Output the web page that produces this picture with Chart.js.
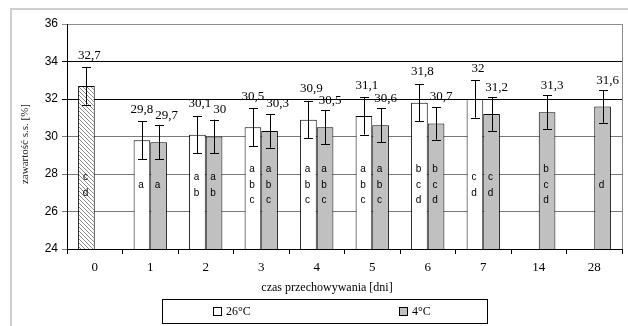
<!DOCTYPE html>
<html><head><meta charset="utf-8">
<script src="https://cdn.jsdelivr.net/npm/chart.js@4/dist/chart.umd.min.js"></script>
<style>html,body{margin:0;padding:0;background:#fff}#wrap{width:628px;height:326px;position:relative}</style>
</head><body><div id="wrap"><canvas id="c" width="628" height="326"></canvas></div>
<script>
const categories = ['0','1','2','3','4','5','6','7','14','28'];
const seriesNames = ['26°C','4°C'];
const values26 = [32.7,29.8,30.1,30.5,30.9,31.1,31.8,32,null,null];
const values4 = [null,29.7,30,30.3,30.5,30.6,30.7,31.2,31.3,31.6];
const err26 = [1.0,1.0,1.0,1.0,1.0,1.0,1.0,1.0,null,null];
const err4 = [null,0.9,0.9,0.9,0.9,0.9,0.87,0.9,0.9,0.87];
const letters26 = ['cd','a','ab','abc','abc','abc','bcd','cd',null,null];
const letters4 = [null,'a','ab','abc','abc','abc','bcd','cd','bcd','d'];
const yTicks = [24,26,28,30,32,34,36];
const xTitle = 'czas przechowywania [dni]';
const yTitle = 'zawartość s.s. [%]';

const SERIF = '"Liberation Serif", "Times New Roman", serif';
const SANS = '"Liberation Sans", Arial, sans-serif';

function hatch(){
  const p=document.createElement('canvas');p.width=4;p.height=4;
  const g=p.getContext('2d');
  g.fillStyle='#fff';g.fillRect(0,0,4,4);
  g.strokeStyle='#8a8a8a';g.lineWidth=1;
  g.beginPath();
  g.moveTo(0,0);g.lineTo(4,4);
  g.moveTo(-1,3);g.lineTo(1,5);
  g.moveTo(3,-1);g.lineTo(5,1);
  g.stroke();
  return g.createPattern(p,'repeat');
}
const ctx0=document.getElementById('c').getContext('2d');
const hatchPattern=hatch();

const fmt=v=>String(v).replace('.',',');

const overlay={
  id:'overlay',
  beforeDraw(chart){
    const c=chart.ctx;
    c.save();
    c.fillStyle='#fff';c.fillRect(0,0,chart.width,chart.height);
    c.strokeStyle='#cfcfcf';c.lineWidth=2;
    c.beginPath();c.moveTo(11,chart.height);c.lineTo(11,9);c.lineTo(chart.width,9);c.stroke();
    c.restore();
  },
  afterDatasetsDraw(chart){
    const c=chart.ctx, y=chart.scales.y, a=chart.chartArea;
    c.save();
    c.strokeStyle='#8c8c8c';c.lineWidth=1;
    c.beginPath();c.moveTo(Math.round(a.right)+0.5,a.top);c.lineTo(Math.round(a.right)+0.5,a.bottom);c.stroke();
    const sets=[[values26,err26,letters26],[values4,err4,letters4]];
    const labels=[[],[]];
    c.font='13px '+SERIF;
    sets.forEach(([vals,errs,lets],di)=>{
      const meta=chart.getDatasetMeta(di);
      meta.data.forEach((bar,i)=>{
        if(vals[i]==null) return;
        const x=Math.round(bar.x)+0.5;
        let top=bar.y;
        if(errs[i]!=null){
          const yt=y.getPixelForValue(vals[i]+errs[i]);
          const yb=y.getPixelForValue(vals[i]-errs[i]);
          c.strokeStyle='#000';c.lineWidth=1;
          c.beginPath();
          c.moveTo(x,yt);c.lineTo(x,yb);
          c.moveTo(x-4.5,Math.round(yt)+0.5);c.lineTo(x+4.5,Math.round(yt)+0.5);
          c.moveTo(x-4.5,Math.round(yb)+0.5);c.lineTo(x+4.5,Math.round(yb)+0.5);
          c.stroke();
          top=yt;
        }
        const txt=fmt(vals[i]);
        labels[di][i]={txt,x:bar.x+(di===0?3:5),y:top-(di===0?12:10),w:c.measureText(txt).width};
        if(lets[i]){
          c.fillStyle='#000';
          c.font='10px '+SANS;c.textBaseline='middle';c.textAlign='center';
          const n=lets[i].length, cy=185;
          for(let k=0;k<n;k++){
            c.fillText(lets[i][k],bar.x-1,cy+(k-(n-1)/2)*15.5);
          }
          c.font='13px '+SERIF;
        }
      });
    });
    // resolve label overlaps within a category
    categories.forEach((_,i)=>{
      const L=labels[0][i], R=labels[1][i];
      if(!L||!R) return;
      if(Math.abs(L.y-R.y)<11){
        const overlap=(L.x+L.w/2)-(R.x-R.w/2)+2;
        if(overlap>0){L.x-=overlap/2;R.x+=overlap/2;}
      }
    });
    c.fillStyle='#000';c.font='13px '+SERIF;c.textAlign='center';c.textBaseline='middle';
    labels.forEach(arr=>arr.forEach(l=>{if(l) c.fillText(l.txt,l.x,l.y);}));
    c.restore();
  },
  afterDraw(chart){
    const c=chart.ctx;
    c.save();
    c.fillStyle='#000';
    c.font='12px '+SERIF;c.textAlign='center';c.textBaseline='middle';
    c.fillText(xTitle,327,288);
    c.save();
    c.translate(25,144);c.rotate(-Math.PI/2);
    c.font='11px '+SERIF;c.fillStyle='#222';
    c.fillText(yTitle,0,0);
    c.restore();
    c.strokeStyle='#000';c.lineWidth=1;
    c.strokeRect(162.5,299.5,325,24);
    c.fillStyle='#fff';c.fillRect(213.5,307.5,8,8);c.strokeRect(213.5,307.5,8,8);
    c.fillStyle='#c0c0c0';c.fillRect(399.5,307.5,8,8);c.strokeRect(399.5,307.5,8,8);
    c.fillStyle='#000';c.textAlign='left';c.font='12px '+SERIF;
    c.fillText(seriesNames[0],226,312);
    c.fillText(seriesNames[1],412,312);
    c.restore();
  }
};

new Chart(ctx0,{
  type:'bar',
  data:{
    labels:categories,
    datasets:[
      {label:seriesNames[0],data:values26,
       backgroundColor:values26.map((v,i)=>i===0?hatchPattern:'#ffffff'),
       borderColor:'#000',borderWidth:1,categoryPercentage:0.6,barPercentage:1.0},
      {label:seriesNames[1],data:values4,backgroundColor:'#c0c0c0',
       borderColor:'#000',borderWidth:1,categoryPercentage:0.6,barPercentage:1.0}
    ]
  },
  options:{
    responsive:false,animation:false,devicePixelRatio:1,
    layout:{padding:{left:0,top:24,right:6,bottom:0}},
    plugins:{legend:{display:false},tooltip:{enabled:false},title:{display:false}},
    scales:{
      x:{
        grid:{offset:true,drawOnChartArea:false,drawTicks:true,tickLength:5,color:'#000'},
        border:{display:true,color:'#000'},
        ticks:{font:{family:SERIF,size:13},color:'#000',padding:6},
        afterFit(s){s.height=77;}
      },
      y:{
        min:24,max:36,
        afterBuildTicks(s){s.ticks=yTicks.map(v=>({value:v}));},
        ticks:{font:{family:SANS,size:12},color:'#000',padding:4},
        grid:{tickLength:5,color:c=>{const v=c.tick&&c.tick.value;return v===36?'#8c8c8c':(v>=32?'#000':'#7a7a7a');}},
        border:{display:true,color:'#000'},
        afterFit(s){s.width=67;}
      }
    }
  },
  plugins:[overlay]
});
</script></body></html>
